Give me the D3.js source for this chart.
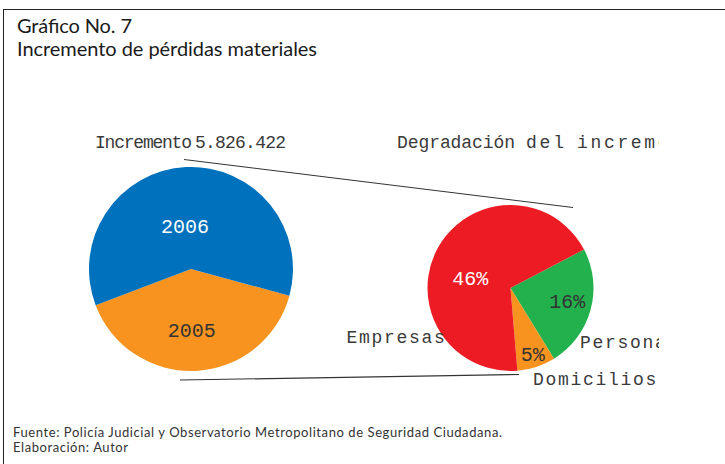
<!DOCTYPE html>
<html>
<head>
<meta charset="utf-8">
<script src="https://cdn.jsdelivr.net/npm/d3@7"></script>
<style>
  body { margin: 0; background: #fff; }
  svg { display: block; }
  .mono { font-family: 'Liberation Mono', 'DejaVu Sans Mono', monospace; }
  .sans { font-family: Lato, 'Open Sans', sans-serif; }
</style>
</head>
<body>
<svg id="chart" width="725" height="464"></svg>
<script>
// values
const leftCategories = ['2005', '2006'];
const leftValues = [40, 60];
const rightCategories = ['Personas', 'Domicilios', 'Empresas'];
const rightValues = [16, 5, 46];
const rightLabels = ['16%', '5%', '46%'];
const leftHeader = ['Incremento', '5.826.422'];
const rightHeader = ['Degradación', 'del', 'incremento'];
const titleLines = ['Gráfico No. 7', 'Incremento de pérdidas materiales'];
const footerLines = ['Fuente: Policía Judicial y Observatorio Metropolitano de Seguridad Ciudadana.', 'Elaboración: Autor'];

const leftColors = ['#F7931E', '#0071BC'];
const rightColors = ['#22B14C', '#F7931E', '#ED1C24'];

const deg = Math.PI / 180;

const svg = d3.select('#chart');

// frame
svg.append('rect')
    .attr('x', 3.5).attr('y', 9.5)
    .attr('width', 800).attr('height', 500)
    .attr('fill', 'none')
    .attr('stroke', '#222')
    .attr('stroke-width', 1);

// title
const titleLen = [115, 300];
svg.selectAll('text.title')
    .data(titleLines)
    .enter()
    .append('text')
    .attr('class', 'title sans')
    .attr('x', 17)
    .attr('y', (d, i) => 33 + i * 23)
    .attr('font-size', 20)
    .attr('textLength', (d, i) => titleLen[i])
    .attr('lengthAdjust', 'spacing')
    .attr('fill', '#1a1a1a')
    .text(d => d);

// footer
const footLen = [489, 115];
svg.selectAll('text.foot')
    .data(footerLines)
    .enter()
    .append('text')
    .attr('class', 'foot sans')
    .attr('x', 13)
    .attr('y', (d, i) => 436.5 + i * 15)
    .attr('font-size', 13)
    .attr('textLength', (d, i) => footLen[i])
    .attr('lengthAdjust', 'spacing')
    .attr('fill', '#333')
    .text(d => d);

// pies
const L = { cx: 191, cy: 269, r: 102, start: 105.2 };
const R = { cx: 510.5, cy: 288, r: 83, start: 62.4 };

const pieFor = (start) => d3.pie().sort(null)
    .startAngle(start * deg)
    .endAngle(start * deg + 2 * Math.PI);

const labelAt = (d, p, frac, shift) => {
    const a = (d.startAngle + d.endAngle) / 2 + shift * deg;
    return [p.cx + p.r * frac * Math.sin(a), p.cy - p.r * frac * Math.cos(a)];
};

// connector lines
svg.append('line')
    .attr('x1', L.cx - 7).attr('y1', L.cy - L.r - 7.5)
    .attr('x2', R.cx + 62.5).attr('y2', R.cy - R.r + 2.5)
    .attr('stroke', '#333').attr('stroke-width', 1);
svg.append('line')
    .attr('x1', L.cx - 11).attr('y1', L.cy + L.r + 9)
    .attr('x2', R.cx + 8.5).attr('y2', R.cy + R.r + 3.5)
    .attr('stroke', '#333').attr('stroke-width', 1.2);

// left pie
const leftArcs = pieFor(L.start)(leftValues);
const gL = svg.append('g').attr('transform', `translate(${L.cx},${L.cy})`);
gL.selectAll('path')
    .data(leftArcs)
    .enter()
    .append('path')
    .attr('d', d3.arc().innerRadius(0).outerRadius(L.r))
    .attr('fill', (d, i) => leftColors[i]);

const leftLabelPos = [[0.6, 2], [0.43, -5]];
const leftLabelFill = ['#333', '#fff'];
svg.selectAll('text.lpct')
    .data(leftArcs)
    .enter()
    .append('text')
    .attr('class', 'lpct mono')
    .attr('x', (d, i) => labelAt(d, L, leftLabelPos[i][0], leftLabelPos[i][1])[0])
    .attr('y', (d, i) => labelAt(d, L, leftLabelPos[i][0], leftLabelPos[i][1])[1])
    .attr('dy', '0.35em')
    .attr('text-anchor', 'middle')
    .attr('font-size', 20)
    .attr('fill', (d, i) => leftLabelFill[i])
    .text((d, i) => leftCategories[i]);

// right pie
const rightArcs = pieFor(R.start)(rightValues);
const gR = svg.append('g').attr('transform', `translate(${R.cx},${R.cy})`);
gR.selectAll('path')
    .data(rightArcs)
    .enter()
    .append('path')
    .attr('d', d3.arc().innerRadius(0).outerRadius(R.r))
    .attr('fill', (d, i) => rightColors[i]);

const rightLabelPos = [[0.7, -2.5], [0.84, -0.5], [0.5, -15.4]];
const rightLabelFill = ['#333', '#333', '#fff'];
svg.selectAll('text.rpct')
    .data(rightArcs)
    .enter()
    .append('text')
    .attr('class', 'rpct mono')
    .attr('x', (d, i) => labelAt(d, R, rightLabelPos[i][0], rightLabelPos[i][1])[0])
    .attr('y', (d, i) => labelAt(d, R, rightLabelPos[i][0], rightLabelPos[i][1])[1])
    .attr('dy', '0.35em')
    .attr('text-anchor', 'middle')
    .attr('font-size', 20)
    .attr('fill', (d, i) => rightLabelFill[i])
    .text((d, i) => rightLabels[i]);

// labels clipped at the chart's right edge
svg.append('clipPath').attr('id', 'plotclip')
    .append('rect').attr('x', 0).attr('y', 0).attr('width', 659).attr('height', 464);
const gText = svg.append('g').attr('clip-path', 'url(#plotclip)');

const catPos = [[580, 348], [533, 385], [346.5, 342.5]];
gText.selectAll('text.cat')
    .data(rightCategories)
    .enter()
    .append('text')
    .attr('class', 'cat mono')
    .attr('x', (d, i) => catPos[i][0])
    .attr('y', (d, i) => catPos[i][1])
    .attr('font-size', 18)
    .attr('letter-spacing', 1.7)
    .attr('fill', '#3a3a3a')
    .text(d => d);

const lh = gText.append('text')
    .attr('class', 'mono')
    .attr('y', 148)
    .attr('font-size', 18)
    .attr('fill', '#3a3a3a');
lh.append('tspan').attr('x', 95).attr('textLength', 97).attr('lengthAdjust', 'spacing').text(leftHeader[0]);
lh.append('tspan').attr('x', 195).attr('textLength', 91).attr('lengthAdjust', 'spacing').text(leftHeader[1]);

const rh = gText.append('text')
    .attr('class', 'mono')
    .attr('y', 148)
    .attr('font-size', 18)
    .attr('fill', '#3a3a3a');
const rhX = [397, 526, 577];
const rhLen = [118, 38, 132];
rightHeader.forEach((w, i) => {
    rh.append('tspan')
        .attr('x', rhX[i])
        .attr('textLength', rhLen[i])
        .attr('lengthAdjust', 'spacing')
        .text(w);
});
</script>
</body>
</html>
